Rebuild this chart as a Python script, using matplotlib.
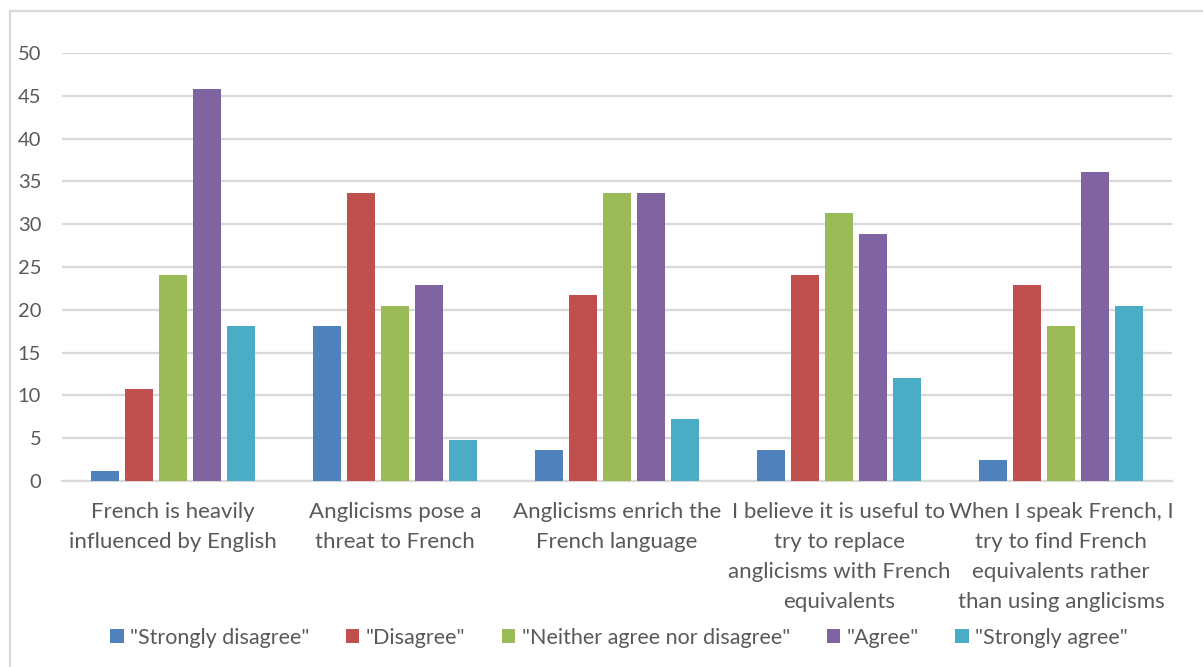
import matplotlib
matplotlib.use("Agg")
import matplotlib.pyplot as plt
import numpy as np
from matplotlib.patches import Rectangle, Patch

plt.rcParams['font.family'] = ['Lato', 'DejaVu Sans']

categories = [
    "French is heavily\ninfluenced by English",
    "Anglicisms pose a\nthreat to French",
    "Anglicisms enrich the\nFrench language",
    "I believe it is useful to\ntry to replace\nanglicisms with French\nequivalents",
    "When I speak French, I\ntry to find French\nequivalents rather\nthan using anglicisms",
]
series_names = ['"Strongly disagree"', '"Disagree"', '"Neither agree nor disagree"',
                '"Agree"', '"Strongly agree"']
strongly_disagree = [1.2, 18.1, 3.6, 3.6, 2.4]
disagree = [10.8, 33.7, 21.7, 24.1, 22.9]
neither = [24.1, 20.5, 33.7, 31.3, 18.1]
agree = [45.8, 22.9, 33.7, 28.9, 36.1]
strongly_agree = [18.1, 4.8, 7.2, 12.0, 20.5]
y_ticks = [0, 5, 10, 15, 20, 25, 30, 35, 40, 45, 50]

series = [strongly_disagree, disagree, neither, agree, strongly_agree]
colors = ["#4F81BD", "#C0504D", "#9BBB59", "#8064A2", "#4BACC6"]
text_color = "#595959"
grid_color = "#D9D9D9"

W, H = 1203, 667
fig = plt.figure(figsize=(W / 100, H / 100), dpi=100)
ax = fig.add_axes([62 / W, 1 - 481 / H, (1172 - 62) / W, (481 - 53) / H])

x = np.arange(len(categories))
slot = 0.153
bar_w = 0.124
for i, (vals, col) in enumerate(zip(series, colors)):
    ax.bar(x + (i - 2) * slot, vals, width=bar_w, color=col, zorder=3)

ax.set_xlim(-0.5, len(categories) - 0.5)
ax.set_ylim(0, 50)
ax.set_yticks(y_ticks)
ax.set_yticklabels([str(t) for t in y_ticks])
ax.yaxis.grid(True, color=grid_color, linewidth=1.6, zorder=0)
ax.set_axisbelow(True)
for s in ["top", "right", "left"]:
    ax.spines[s].set_visible(False)
ax.spines["bottom"].set_color(grid_color)
ax.spines["bottom"].set_linewidth(1.6)
ax.tick_params(axis="y", length=0, pad=15, labelsize=14.5, labelcolor=text_color)
ax.tick_params(axis="x", length=0, pad=15, labelsize=16, labelcolor=text_color)
ax.set_xticks(x)
ax.set_xticklabels(categories, linespacing=1.62)

handles = [Patch(facecolor=c, edgecolor="none") for c in colors]
leg = fig.legend(handles, series_names, loc="center", ncol=5,
                 bbox_to_anchor=(619 / W, 1 - 638 / H), frameon=False,
                 fontsize=15.5, handlelength=0.62, handleheight=0.62,
                 handletextpad=0.3, columnspacing=1.7)
for t in leg.get_texts():
    t.set_color(text_color)

# chart-area border
fig.patches.append(Rectangle((10 / W, -0.1), 1.2, 1 - 11 / H + 0.1,
                             transform=fig.transFigure, fill=False,
                             edgecolor=grid_color, linewidth=1.6))

fig.savefig("out.png", dpi=100)
